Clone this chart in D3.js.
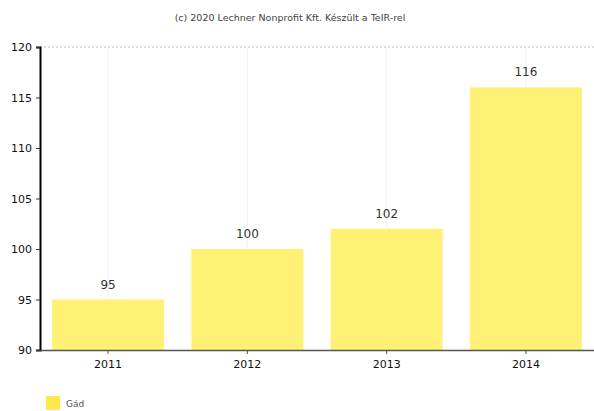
<!DOCTYPE html>
<html>
<head>
<meta charset="utf-8">
<script src="https://cdn.jsdelivr.net/npm/d3@7"></script>
<style>
  body { margin: 0; background: #fff; }
  svg { font-family: "DejaVu Sans", sans-serif; }
</style>
</head>
<body>
<div id="chart"></div>
<script>
const years = ["2011", "2012", "2013", "2014"];
const values = [95, 100, 102, 116];
const yTicks = [90, 95, 100, 105, 110, 115, 120];
const seriesName = "Gád";
const credit = "(c) 2020 Lechner Nonprofit Kft. Készült a TeIR-rel";

const width = 594, height = 411;
const margin = { top: 47, right: 0, bottom: 61, left: 40 };

const svg = d3.select("#chart").append("svg")
  .attr("width", width)
  .attr("height", height);

const x = d3.scaleBand()
  .domain(years)
  .range([margin.left, width - margin.right])
  .paddingInner(0.196)
  .paddingOuter(0.087);

const y = d3.scaleLinear()
  .domain([90, 120])
  .range([height - margin.bottom, margin.top]);

// titulus
svg.append("text")
  .attr("x", 290)
  .attr("y", 21)
  .attr("text-anchor", "middle")
  .attr("font-size", 9.5)
  .attr("fill", "#444")
  .text(credit);

// halvány függőleges rács
svg.append("g")
  .selectAll("line")
  .data(years)
  .join("line")
  .attr("x1", d => x(d) + x.bandwidth() / 2)
  .attr("x2", d => x(d) + x.bandwidth() / 2)
  .attr("y1", y(120))
  .attr("y2", y(90))
  .attr("stroke", "#f2f2f2");

// felső pontozott vonal
svg.append("line")
  .attr("x1", margin.left)
  .attr("x2", width - margin.right)
  .attr("y1", y(120))
  .attr("y2", y(120))
  .attr("stroke", "#bbb")
  .attr("stroke-dasharray", "2,2");

// oszlopok
svg.append("g")
  .selectAll("rect")
  .data(values)
  .join("rect")
  .attr("x", (d, i) => x(years[i]))
  .attr("y", d => y(d))
  .attr("width", x.bandwidth())
  .attr("height", d => y(90) - y(d))
  .attr("fill", "#fff176");

// értékcímkék
svg.append("g")
  .selectAll("text")
  .data(values)
  .join("text")
  .attr("x", (d, i) => x(years[i]) + x.bandwidth() / 2)
  .attr("y", d => y(d) - 11)
  .attr("text-anchor", "middle")
  .attr("font-size", 12)
  .attr("fill", "#333")
  .text(d => d);

// y tengely
const yAxis = svg.append("g")
  .attr("transform", `translate(${margin.left},0)`)
  .call(d3.axisLeft(y).tickValues(yTicks).tickSize(4).tickPadding(4));
yAxis.select(".domain").attr("stroke", "#000").attr("stroke-width", 2);
yAxis.selectAll(".tick line").attr("stroke", "#333");
yAxis.selectAll("text").attr("font-size", 11).attr("fill", "#111")
  .attr("font-family", "DejaVu Sans");

// x tengely
const xAxis = svg.append("g")
  .attr("transform", `translate(0,${y(90)})`)
  .call(d3.axisBottom(x).tickSize(4).tickPadding(6).tickSizeOuter(0));
xAxis.select(".domain").attr("stroke", "#555").attr("stroke-width", 1.5);
xAxis.selectAll(".tick line").attr("stroke", "#555");
xAxis.selectAll("text").attr("font-size", 11).attr("fill", "#111")
  .attr("font-family", "DejaVu Sans");

// jelmagyarázat
svg.append("rect")
  .attr("x", 46).attr("y", 396)
  .attr("width", 14).attr("height", 14)
  .attr("fill", "#ffe84d");
svg.append("text")
  .attr("x", 66).attr("y", 407)
  .attr("font-size", 9)
  .attr("fill", "#555")
  .text(seriesName);
</script>
</body>
</html>
